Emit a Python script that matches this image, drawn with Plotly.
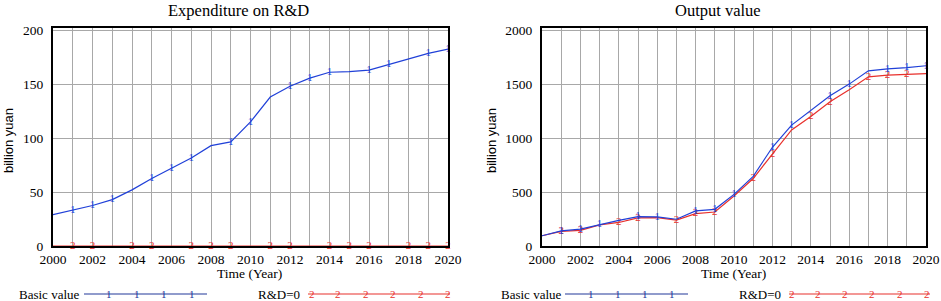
import plotly.graph_objects as go

years = list(range(2000, 2021))
rd_basic = [29, 33, 37.5, 43, 52, 62.5, 72, 81.5, 93, 96.5, 115, 138, 148, 155.5, 161, 161.5, 163, 168, 173, 178.5, 182.5]
rd_zero = [0] * 21
out_basic = [95, 140, 157, 200, 238, 273, 270, 248, 325, 340, 478, 645, 915, 1120, 1253, 1392, 1500, 1623, 1642, 1652, 1670]
out_zero = [95, 136, 145, 195, 218, 260, 263, 240, 300, 315, 463, 625, 852, 1075, 1200, 1336, 1447, 1568, 1583, 1590, 1597]

rd_basic_marks = [2001, 2002, 2003, 2005, 2006, 2007, 2009, 2010, 2012, 2013, 2014, 2016, 2017, 2019, 2020]
rd_zero_marks = [2001, 2002, 2004, 2005, 2007, 2008, 2009, 2011, 2012, 2014, 2015, 2016, 2018, 2019, 2020]
out_basic_marks = [2001, 2002, 2003, 2005, 2006, 2008, 2009, 2010, 2012, 2013, 2015, 2016, 2018, 2019, 2020]
out_zero_marks = [2001, 2002, 2004, 2005, 2007, 2008, 2009, 2011, 2012, 2014, 2015, 2017, 2018, 2019]

titles = ["Expenditure on R&D", "Output value"]
series_names = ["Basic value", "R&D=0"]
x_tick_vals = years
x_tick_text = [str(y) if y % 2 == 0 else "" for y in years]

BLUE = "#2040d8"
BLUE_LEG = "#22389a"
RED = "#e8302c"
FONT = '"Liberation Serif", "Times New Roman", Times, serif'
SANS = '"Liberation Sans", Arial, sans-serif'

W, H = 941, 301
MT, MB = 28, 55
PH = H - MT - MB


def px(x):
    return x / W


def py(y):
    return (H - MB - y) / PH


fig = go.Figure()


def add_series(xa, ya, ys, marks, color, label):
    fig.add_trace(go.Scatter(x=years, y=ys, mode="lines", line=dict(color=color, width=1.2),
                             xaxis=xa, yaxis=ya, showlegend=False, hoverinfo="skip"))
    mx = [y for y in years if y in marks]
    my = [ys[years.index(y)] for y in mx]
    fig.add_trace(go.Scatter(x=mx, y=my, mode="text", text=[label] * len(mx),
                             textfont=dict(color=color, size=11, family=FONT),
                             textposition="middle center", cliponaxis=False,
                             xaxis=xa, yaxis=ya, showlegend=False, hoverinfo="skip"))


add_series("x", "y", rd_zero, rd_zero_marks, RED, "2")
add_series("x", "y", rd_basic, rd_basic_marks, BLUE, "1")
add_series("x2", "y2", out_zero, out_zero_marks, RED, "2")
add_series("x2", "y2", out_basic, out_basic_marks, BLUE, "1")

axis_common = dict(showline=True, linecolor="black", linewidth=2, mirror=True,
                   showgrid=True, gridcolor="#a8a8a8", gridwidth=1, zeroline=False,
                   automargin=False,
                   ticks="", tickfont=dict(family=FONT, size=13.5, color="black"))

fig.update_layout(
    template="none",
    font=dict(family=FONT, color="black"),
    width=W, height=H, margin=dict(l=0, r=0, t=MT, b=MB, pad=0, autoexpand=False),
    paper_bgcolor="white", plot_bgcolor="white",
    xaxis=dict(domain=[px(53), px(448)], range=[2000, 2020], tickvals=x_tick_vals,
               ticktext=x_tick_text, anchor="y", **axis_common),
    yaxis=dict(domain=[0, 1], range=[0, 202], dtick=50, anchor="x", ticklabelstandoff=5, **axis_common),
    xaxis2=dict(domain=[px(542), px(926)], range=[2000, 2020], tickvals=x_tick_vals,
                ticktext=x_tick_text, anchor="y2", **axis_common),
    yaxis2=dict(domain=[0, 1], range=[0, 2020], dtick=500, anchor="x2", ticklabelstandoff=5, **axis_common),
)

ann = []
shapes = []
# titles
for t, cx in zip(titles, [238, 718]):
    ann.append(dict(text=t, x=px(cx), y=py(11), xref="paper", yref="paper", showarrow=False,
                    xanchor="center", yanchor="middle", font=dict(family=FONT, size=16.5, color="black")))
# axis titles
for cx in [8, 491]:
    ann.append(dict(text="billion yuan", x=px(cx), y=py(141), xref="paper", yref="paper", showarrow=False,
                    textangle=-90, xanchor="center", yanchor="middle", font=dict(family=SANS, size=13, color="black")))
for cx in [250, 733]:
    ann.append(dict(text="Time (Year)", x=px(cx), y=py(273), xref="paper", yref="paper", showarrow=False,
                    xanchor="center", yanchor="middle", font=dict(family=FONT, size=13.5, color="black")))

# legends
legend_specs = [
    (17, 84, 207, [109, 137, 164, 192], BLUE_LEG, "1", series_names[0]),
    (256, 308, 450, [312, 338, 366, 393, 421, 448], RED, "2", series_names[1]),
    (499, 565, 688, [591, 618, 645, 672], BLUE_LEG, "1", series_names[0]),
    (737, 789, 930, [792, 818, 845, 872, 900, 927], RED, "2", series_names[1]),
]
LY = 294
for tl, l0, l1, mk, col, lab, name in legend_specs:
    ann.append(dict(text=name, x=px(tl), y=py(LY), xref="paper", yref="paper", showarrow=False,
                    xanchor="left", yanchor="middle", font=dict(family=FONT, size=13, color="black")))
    shapes.append(dict(type="line", xref="paper", yref="paper", x0=px(l0), x1=px(l1), y0=py(LY), y1=py(LY),
                       line=dict(color=col, width=1.2)))
    for m in mk:
        ann.append(dict(text=lab, x=px(m), y=py(LY), xref="paper", yref="paper", showarrow=False,
                        xanchor="center", yanchor="middle", font=dict(family=FONT, size=11, color=col)))

fig.update_layout(annotations=ann, shapes=shapes)
fig.write_html("out.html", config={"displayModeBar": False},
               post_script="document.body.style.margin='0';document.body.style.padding='0';")
